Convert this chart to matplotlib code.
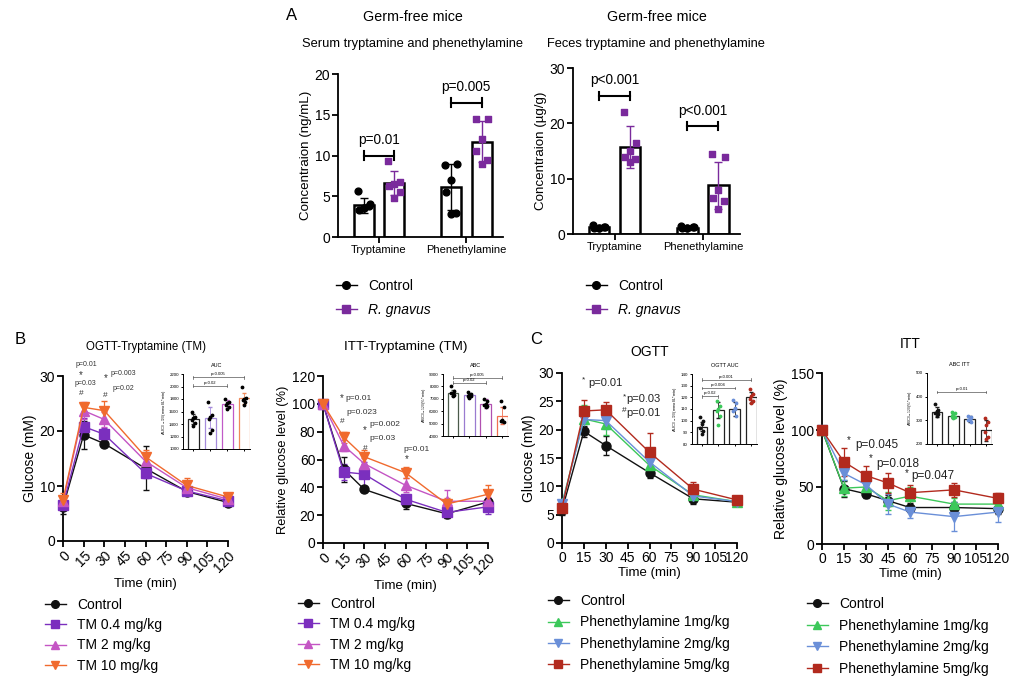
import matplotlib
matplotlib.use("Agg")
import matplotlib.pyplot as plt
import numpy as np
from matplotlib.lines import Line2D

plt.rcParams['font.family'] = ['Liberation Sans', 'DejaVu Sans']
plt.rcParams['axes.linewidth'] = 1.3

W, H = 1024, 693

# ---------------- data ----------------
groups_a = ['Tryptamine', 'Phenethylamine']
legend_a = ['Control', 'R. gnavus']

serum_mean_ctrl = [3.9, 6.1]
serum_sd_ctrl = [0.9, 2.8]
serum_mean_rg = [6.6, 11.7]
serum_sd_rg = [1.5, 2.5]
serum_pts_ctrl = [[5.7, 4.0, 3.5, 3.3, 3.8, 3.6], [8.8, 9.0, 7.0, 5.5, 3.0, 2.8]]
serum_pts_rg = [[9.3, 6.8, 6.5, 6.2, 5.5, 4.8], [14.5, 14.5, 12.0, 10.5, 9.5, 9.0]]
serum_p = ['p=0.01', 'p=0.005']
serum_p_y = [10, 16.5]

feces_mean_ctrl = [1.2, 1.1]
feces_sd_ctrl = [0.3, 0.3]
feces_mean_rg = [15.8, 8.8]
feces_sd_rg = [3.8, 4.2]
feces_pts_ctrl = [[1.6, 1.2, 1.0, 1.1, 1.3, 1.0], [1.5, 1.2, 1.0, 1.1, 1.3, 1.0]]
feces_pts_rg = [[22.0, 16.5, 15.0, 14.0, 13.5, 13.0], [14.5, 14.0, 8.0, 6.5, 6.0, 4.5]]
feces_p = ['p<0.001', 'p<0.001']
feces_p_y = [25, 19.5]

time_b = [0, 15, 30, 60, 90, 120]
labels_b = ['Control', 'TM 0.4 mg/kg', 'TM 2 mg/kg', 'TM 10 mg/kg']
ogtt_tm = [[6.2, 19.3, 17.7, 13.2, 9.0, 7.0],
           [6.5, 20.8, 19.4, 12.3, 9.1, 7.3],
           [7.2, 23.7, 22.1, 14.5, 9.7, 7.6],
           [7.5, 24.3, 23.7, 15.3, 10.1, 8.0]]
ogtt_tm_err = [[1.2, 2.6, 0.5, 4.0, 0.6, 0.6],
               [0.8, 1.5, 1.2, 0.8, 0.6, 0.5],
               [1.0, 1.5, 1.3, 1.0, 0.7, 0.5],
               [1.2, 0.7, 1.7, 1.3, 1.3, 0.5]]
itt_tm = [[100, 53, 38.5, 28.5, 21, 29.5],
          [100, 51, 49.5, 31.5, 22, 26],
          [100, 70, 57, 41.5, 30, 30],
          [100, 76, 62, 50.5, 28, 35]]
itt_tm_err = [[0, 9, 1.5, 4, 3, 3],
              [0, 6, 9, 4, 2, 5],
              [0, 4, 4, 5, 8, 3],
              [0, 4, 5, 4, 4, 7]]

time_c1 = [0, 15, 30, 60, 90, 120]
time_c2 = [0, 15, 30, 45, 60, 90, 120]
labels_c = ['Control', 'Phenethylamine 1mg/kg', 'Phenethylamine 2mg/kg', 'Phenethylamine 5mg/kg']
ogtt_pea = [[5.8, 19.7, 17.2, 12.4, 7.8, 7.2],
            [7.0, 21.9, 21.0, 13.7, 8.5, 7.3],
            [6.8, 21.8, 21.6, 14.3, 8.3, 7.3],
            [6.2, 23.3, 23.5, 16.0, 9.5, 7.6]]
ogtt_pea_err = [[0.8, 1.0, 1.6, 1.0, 1.0, 0.5],
                [0.5, 2.5, 2.0, 1.0, 0.8, 0.4],
                [0.5, 2.0, 1.5, 1.0, 0.7, 0.4],
                [0.5, 1.9, 1.4, 3.5, 1.2, 0.5]]
itt_pea = [[100, 48.5, 44, 38, 32, 32, 31],
           [100, 49, 50, 38, 42, 35, 35],
           [100, 62, 52, 35, 28, 24, 28],
           [100, 72, 60, 53.5, 45, 47.5, 40]]
itt_pea_err = [[0, 7, 4, 5, 4, 5, 5],
               [0, 7, 6, 8, 8, 5, 5],
               [0, 6, 5, 9, 5, 13, 9],
               [0, 12, 8, 9, 7, 6, 5]]

# insets
auc_tm = [1480, 1500, 1720, 1810]
auc_tm_sd = [80, 170, 70, 90]
auc_tm_pts = [[1600, 1510, 1490, 1470, 1420, 1370], [1750, 1540, 1510, 1480, 1300, 1260],
              [1800, 1760, 1730, 1710, 1680, 1640], [2000, 1810, 1800, 1790, 1760, 1700]]
abc_tm = [7500, 7300, 6600, 5650]
abc_tm_sd = [250, 200, 350, 700]
abc_tm_pts = [[8000, 7600, 7500, 7450, 7300, 7200], [7550, 7400, 7300, 7250, 7200, 7100],
              [7000, 6800, 6600, 6500, 6400, 6300], [6800, 6300, 5300, 5200, 5100, 5200]]
auc_pea = [95, 109, 110, 120]
auc_pea_sd = [4, 7, 6, 5]
auc_pea_pts = [[103, 100, 97, 94, 91, 89], [117, 113, 110, 108, 104, 96],
               [118, 115, 111, 108, 104, 110], [127, 123, 121, 119, 117, 115]]
abc_pea = [335, 320, 305, 258]
abc_pea_sd = [20, 12, 12, 45]
abc_pea_pts = [[370, 345, 340, 330, 325, 320], [335, 330, 325, 320, 315, 310],
               [320, 315, 305, 300, 295, 305], [310, 295, 280, 250, 230, 220]]

c_ctrl = '#111111'
c_rg = '#7a2a9c'
cols_b = [c_ctrl, '#7b2fbe', '#c455c4', '#f06a2e']
marks_b = ['o', 's', '^', 'v']
cols_c = [c_ctrl, '#3cc85a', '#6a8fd8', '#b22a1e']
marks_c = ['o', '^', 'v', 's']


def rect(left, top, right, bottom):
    return [left / W, 1 - bottom / H, (right - left) / W, (bottom - top) / H]


def style(ax, lw=1.3, tl=4, fs=9.5):
    ax.spines['top'].set_visible(False)
    ax.spines['right'].set_visible(False)
    ax.spines['left'].set_linewidth(lw)
    ax.spines['bottom'].set_linewidth(lw)
    ax.tick_params(width=lw, length=tl, labelsize=fs, pad=1.5)


fig = plt.figure(figsize=(W / 100, H / 100), dpi=100)

# ---------------- panel A ----------------
jit = np.array([-0.07, 0.07, 0.0, -0.06, 0.06, 0.0])


def bar_panel(ax, mc, sc, mr, sr, pc, pr, ptxt, py, ylim, yticks, ylabel):
    x = np.arange(2)
    off = 0.175
    ax.bar(x - off, mc, width=0.23, color='white', edgecolor='black', lw=1.8, zorder=1)
    ax.bar(x + off, mr, width=0.23, color='white', edgecolor='black', lw=1.8, zorder=1)
    ax.errorbar(x - off, mc, yerr=sc, fmt='none', ecolor='black', elinewidth=1, capsize=3, zorder=3)
    ax.errorbar(x + off, mr, yerr=sr, fmt='none', ecolor=c_rg, elinewidth=1, capsize=3, zorder=3)
    for i in range(2):
        ax.scatter(x[i] - off + jit, pc[i], marker='o', s=24, color='black', zorder=4, clip_on=False)
        ax.scatter(x[i] + off + jit, pr[i], marker='s', s=24, color=c_rg, zorder=4, clip_on=False)
        ax.plot([x[i] - off, x[i] + off], [py[i], py[i]], color='black', lw=1.5)
        ax.plot([x[i] - off, x[i] - off], [py[i] - ylim[1] * 0.025, py[i] + ylim[1] * 0.025], color='black', lw=1.5)
        ax.plot([x[i] + off, x[i] + off], [py[i] - ylim[1] * 0.025, py[i] + ylim[1] * 0.025], color='black', lw=1.5)
        ax.text(x[i], py[i] + ylim[1] * 0.05, ptxt[i], ha='center', va='bottom', fontsize=9.8)
    ax.set_xlim(-0.47, 1.42)
    ax.set_ylim(*ylim)
    ax.set_yticks(yticks)
    ax.set_xticks(x)
    ax.set_xticklabels(groups_a)
    ax.set_ylabel(ylabel, fontsize=9.6, labelpad=2)
    style(ax, fs=10)
    ax.tick_params(axis='x', labelsize=8)


axA1 = fig.add_axes(rect(338, 74, 503, 237))
bar_panel(axA1, serum_mean_ctrl, serum_sd_ctrl, serum_mean_rg, serum_sd_rg,
          serum_pts_ctrl, serum_pts_rg, serum_p, serum_p_y, (0, 20), [0, 5, 10, 15, 20],
          'Concentraion (ng/mL)')
axA2 = fig.add_axes(rect(573, 68, 740, 234))
bar_panel(axA2, feces_mean_ctrl, feces_sd_ctrl, feces_mean_rg, feces_sd_rg,
          feces_pts_ctrl, feces_pts_rg, feces_p, feces_p_y, (0, 30), [0, 10, 20, 30],
          'Concentraion (\u00b5g/g)')

fig.text(413 / W, 1 - 17 / H, 'Germ-free mice', ha='center', va='center', fontsize=10.3)
fig.text(413 / W, 1 - 44 / H, 'Serum tryptamine and phenethylamine', ha='center', va='center', fontsize=9.3)
fig.text(657 / W, 1 - 17 / H, 'Germ-free mice', ha='center', va='center', fontsize=10.3)
fig.text(656 / W, 1 - 44 / H, 'Feces tryptamine and phenethylamine', ha='center', va='center', fontsize=9.3)
fig.text(286 / W, 1 - 16 / H, 'A', ha='left', va='center', fontsize=12)

handles_a = [Line2D([], [], color='black', marker='o', ms=5.5, lw=1),
             Line2D([], [], color=c_rg, marker='s', ms=5.5, lw=1)]
for lx in (336, 586):
    lg = fig.legend(handles_a, legend_a, loc='upper left', bbox_to_anchor=(lx / W, 1 - 279 / H),
                    frameon=False, fontsize=10, handlelength=1.5, labelspacing=0.72, handletextpad=0.8,
                    borderaxespad=0, borderpad=0)
    lg.get_texts()[1].set_style('italic')


# ---------------- line panels ----------------
def line_panel(ax, t, series, errs, cols, marks, ylim, yticks, rot):
    for y, e, c, m in zip(series, errs, cols, marks):
        ax.errorbar(t, y, yerr=e, color=c, marker=m, ms=6.5, lw=1, elinewidth=0.9,
                    capsize=2.5, clip_on=False, zorder=3)
    ax.set_xlim(0, 120)
    ax.set_ylim(*ylim)
    ax.set_yticks(yticks)
    ax.set_xticks(np.arange(0, 121, 15))
    style(ax, fs=10)
    if rot:
        ax.set_xticklabels([str(v) for v in range(0, 121, 15)], rotation=45, ha='right',
                           rotation_mode='anchor')
    ax.set_xlabel('Time (min)', fontsize=9.5, labelpad=2)


def legend_below(handles, labels, x, y, sp):
    fig.legend(handles, labels, loc='upper left', bbox_to_anchor=(x / W, 1 - y / H),
               frameon=False, fontsize=10, handlelength=1.5, labelspacing=sp, handletextpad=0.8,
               borderaxespad=0, borderpad=0)


def inset(ax, means, sds, pts, ecols, pcols, ylim, yticks, title, ylabel, brackets):
    x = np.arange(4)
    ax.bar(x, means, width=0.65, color='white', edgecolor=ecols, lw=0.9, zorder=1)
    for i in range(4):
        ax.errorbar(x[i], means[i], yerr=sds[i], fmt='none', ecolor=ecols[i], elinewidth=0.6,
                    capsize=1.5, zorder=2)
        ax.scatter(x[i] + jit[:len(pts[i])] * 1.4, pts[i], s=3, color=pcols[i], zorder=3, clip_on=False)
    span = ylim[1] - ylim[0]
    for i, j, yb, txt in brackets:
        ax.plot([i, j], [yb, yb], color='#555555', lw=0.5)
        for xx in (i, j):
            ax.plot([xx, xx], [yb - span * 0.02, yb + span * 0.02], color='#555555', lw=0.5)
        ax.text((i + j) / 2, yb + span * 0.015, txt, ha='center', va='bottom', fontsize=3)
    ax.set_xlim(-0.6, 3.35)
    ax.set_ylim(*ylim)
    ax.set_yticks(yticks)
    ax.set_xticks(x)
    ax.set_xticklabels([''] * 4)
    style(ax, lw=0.7, tl=1.5, fs=3.2)
    ax.set_title(title, fontsize=4, pad=5)
    ax.set_ylabel(ylabel, fontsize=3, labelpad=1)
    ax.patch.set_alpha(0)


# B left
axB1 = fig.add_axes(rect(63, 376, 228, 541))
line_panel(axB1, time_b, ogtt_tm, ogtt_tm_err, cols_b, marks_b, (0, 30), [0, 10, 20, 30], True)
axB1.set_ylabel('Glucose (mM)', fontsize=10, labelpad=2)
axB1.set_title('OGTT-Tryptamine (TM)', fontsize=8.3, pad=19)
for tx, ty, s, fs in [(17, 32, 'p=0.01', 5), (13, 30.2, '*', 7), (16, 28.7, 'p=0.03', 5),
                      (13, 26.9, '#', 6), (31, 29.6, '*', 7), (44, 30.5, 'p=0.003', 5),
                      (31, 26.4, '#', 6), (44, 27.8, 'p=0.02', 5)]:
    axB1.text(tx, ty, s, fontsize=fs, ha='center', va='center', color='#333333')
fig.text(15 / W, 1 - 340 / H, 'B', fontsize=12, ha='left', va='center')
legend_below([Line2D([], [], color=c, marker=m, ms=5.5, lw=1) for c, m in zip(cols_b, marks_b)],
             labels_b, 45, 598, 0.45)

iB1 = fig.add_axes(rect(183, 374, 250, 449))
inset(iB1, auc_tm, auc_tm_sd, auc_tm_pts, ['#222222', '#a58bdb', '#c05ac8', '#f08a5a'],
      ['black'] * 4, (1000, 2200), np.arange(1000, 2201, 200), 'AUC',
      'AUC$_{0-120}$(mmol/L*min)', [(0, 2, 2010, 'p=0.02'), (0, 3, 2150, 'p=0.005')])

# B right
axB2 = fig.add_axes(rect(323, 376, 488, 543))
line_panel(axB2, time_b, itt_tm, itt_tm_err, cols_b, marks_b, (0, 120), np.arange(0, 121, 20), True)
axB2.set_ylabel('Relative glucose level (%)', fontsize=9.3, labelpad=2)
axB2.set_title('ITT-Tryptamine (TM)', fontsize=9.7, pad=19)
for tx, ty, s, fs in [(14, 104, '*', 7), (26, 104, 'p=0.01', 6), (28, 94, 'p=0.023', 6),
                      (14, 87, '#', 6), (30.5, 81, '*', 7), (45, 85, 'p=0.002', 6),
                      (43, 75, 'p=0.03', 6), (30.5, 68, '#', 6), (68, 67, 'p=0.01', 6),
                      (61, 60, '*', 7)]:
    axB2.text(tx, ty, s, fontsize=fs, ha='center', va='center', color='#333333')
legend_below([Line2D([], [], color=c, marker=m, ms=5.5, lw=1) for c, m in zip(cols_b, marks_b)],
             labels_b, 298, 597, 0.45)

iB2 = fig.add_axes(rect(443, 374, 508, 436))
inset(iB2, abc_tm, abc_tm_sd, abc_tm_pts, ['#4a5a4a', '#9a7bd0', '#b050b0', '#f07050'],
      ['black'] * 4, (4000, 9000), np.arange(4000, 9001, 1000), 'ABC',
      'ABC$_{0-120}$(%*min)', [(0, 2, 8300, 'p=0.02'), (0, 3, 8700, 'p=0.005')])

# C left
axC1 = fig.add_axes(rect(562, 373, 737, 543))
line_panel(axC1, time_c1, ogtt_pea, ogtt_pea_err, cols_c, marks_c, (0, 30), np.arange(0, 31, 5), False)
axC1.set_ylabel('Glucose (mM)', fontsize=10, labelpad=2)
axC1.set_title('OGTT', fontsize=10, pad=12)
for tx, ty, s, fs in [(14.4, 28.8, '*', 6), (29.5, 28.2, 'p=0.01', 8),
                      (43, 25.8, '*', 6), (55.6, 25.4, 'p=0.03', 8),
                      (43, 23.3, '#', 6), (55.6, 22.9, 'p=0.01', 8)]:
    axC1.text(tx, ty, s, fontsize=fs, ha='center', va='center', color='#222222')
fig.text(530 / W, 1 - 340 / H, 'C', fontsize=12, ha='left', va='center')
legend_below([Line2D([], [], color=c, marker=m, ms=5.5, lw=1) for c, m in zip(cols_c, marks_c)],
             labels_c, 548, 594, 0.53)

iC1 = fig.add_axes(rect(692, 374, 757, 444))
inset(iC1, auc_pea, auc_pea_sd, auc_pea_pts, ['#222222'] * 4, cols_c,
      (80, 140), np.arange(80, 141, 10), 'OGTT AUC',
      'AUC$_{0-120}$(mmol/L*min)', [(0, 1, 121, 'p=0.02'), (0, 2, 128, 'p=0.004'), (0, 3, 135, 'p<0.001')])

# C right
axC2 = fig.add_axes(rect(822, 373, 998, 544))
line_panel(axC2, time_c2, itt_pea, itt_pea_err, cols_c, marks_c, (0, 150), [0, 50, 100, 150], False)
axC2.set_xticklabels(['0', '15', '30', '45', '60', '75', '90', '105', '120'])
axC2.set_ylabel('Relative glucose level (%)', fontsize=10, labelpad=2)
axC2.set_title('ITT', fontsize=10, pad=18)
for tx, ty, s, fs in [(18.4, 91, '*', 7), (37.5, 87, 'p=0.045', 8.5),
                      (33, 75, '*', 7), (52, 70, 'p=0.018', 8.5),
                      (58, 62, '*', 7), (75.7, 60, 'p=0.047', 8.5)]:
    axC2.text(tx, ty, s, fontsize=fs, ha='center', va='center', color='#222222')
legend_below([Line2D([], [], color=c, marker=m, ms=5.5, lw=1) for c, m in zip(cols_c, marks_c)],
             labels_c, 807, 597, 0.55)

iC2 = fig.add_axes(rect(927, 373, 992, 444))
inset(iC2, abc_pea, abc_pea_sd, abc_pea_pts, ['#222222'] * 4, cols_c,
      (200, 500), [200, 300, 400, 500], 'ABC ITT',
      'ABC$_{0-120}$(%*min)', [(0, 3, 420, 'p=0.01')])

fig.savefig('out.png', dpi=100)
